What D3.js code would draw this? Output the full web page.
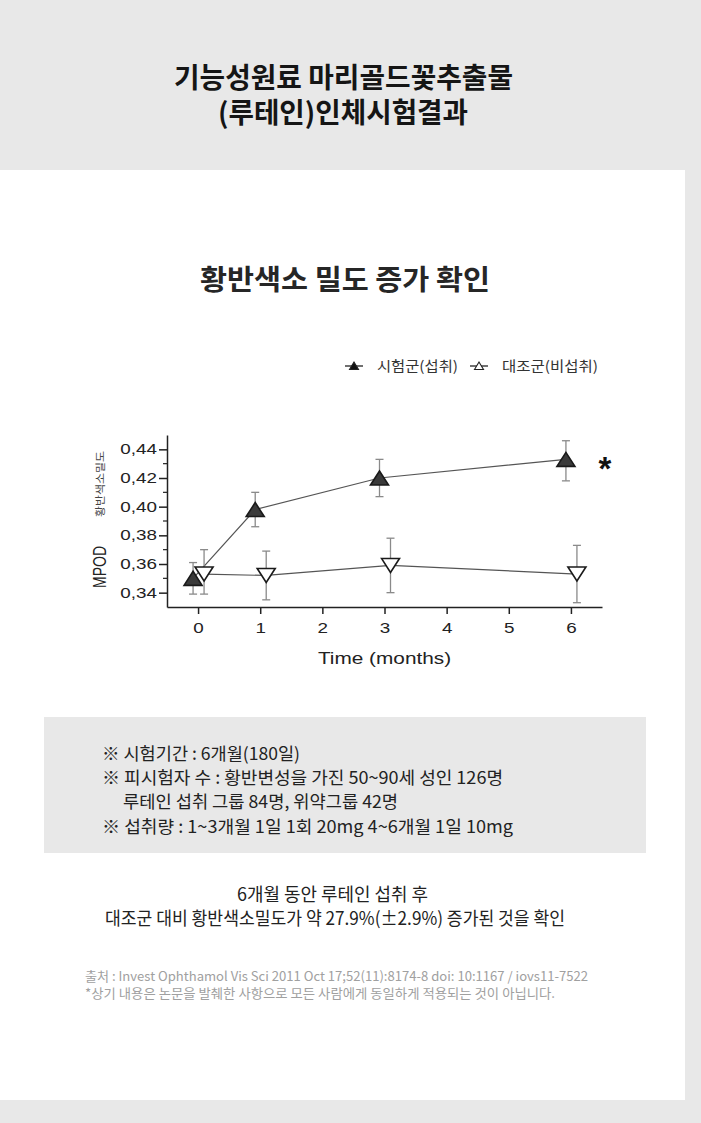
<!DOCTYPE html>
<html><head><meta charset="utf-8">
<script src="https://cdn.jsdelivr.net/npm/d3@7"></script>
<style>body{margin:0;background:#e8e8e8;overflow:hidden}svg{display:block}</style>
</head><body>
<svg id="c" width="701" height="1123"></svg>
<script>
// ---- data ----
const months = [0, 1, 3, 6];
const treatMean = [0.350, 0.398, 0.420, 0.433];
const treatLo   = [0.339, 0.386, 0.407, 0.418];
const treatHi   = [0.361, 0.410, 0.433, 0.446];
const ctrlMean  = [0.353, 0.352, 0.359, 0.353];
const ctrlLo    = [0.339, 0.335, 0.340, 0.333];
const ctrlHi    = [0.370, 0.369, 0.378, 0.373];
const xTicks = [0, 1, 2, 3, 4, 5, 6];
const yTicks = [0.34, 0.36, 0.38, 0.40, 0.42, 0.44];
const yMinor = [0.35, 0.37, 0.39, 0.41, 0.43];
const seriesNames = ["시험군(섭취)", "대조군(비섭취)"];
const titleLines = ["기능성원료 마리골드꽃추출물", "(루테인)인체시험결과"];
const subTitle = "황반색소 밀도 증가 확인";
const infoLines = ["※ 시험기간 : 6개월(180일)", "※ 피시험자 수 : 황반변성을 가진 50~90세 성인 126명", "루테인 섭취 그룹 84명, 위약그룹 42명", "※ 섭취량 : 1~3개월 1일 1회 20mg 4~6개월 1일 10mg"];
const conclusion = ["6개월 동안 루테인 섭취 후", "대조군 대비 황반색소밀도가 약 27.9%(±2.9%) 증가된 것을 확인"];
const sourceLines = ["출처 : Invest Ophthamol Vis Sci 2011 Oct 17;52(11):8174-8 doi: 10:1167 / iovs11-7522", "*상기 내용은 논문을 발췌한 사항으로 모든 사람에게 동일하게 적용되는 것이 아닙니다."];

const svg = d3.select("#c");
const KR = "'Noto Sans CJK KR', 'Noto Sans', sans-serif";
const AR = "'Liberation Sans', Arial, sans-serif";
const SX = 1.3; // horizontal stretch of chart text

// backgrounds
svg.append("rect").attr("x",0).attr("y",0).attr("width",701).attr("height",1123).attr("fill","#e8e8e8");
svg.append("rect").attr("x",0).attr("y",170).attr("width",685).attr("height",930).attr("fill","#ffffff");

// multi-line fitted text block: lines = [{s, x, y, w}]
function block(lines, size, opts={}) {
  const t = svg.append("text").attr("font-family", opts.family || KR).attr("font-size", size)
    .attr("font-weight", opts.weight || 400).attr("fill", opts.fill || "#222");
  lines.forEach(l => {
    const ts = t.append("tspan").attr("x", l.x).attr("y", l.y).text(l.s);
    if (l.w) ts.attr("textLength", l.w).attr("lengthAdjust", "spacingAndGlyphs");
  });
  return t;
}

// titles
block([{s: titleLines[0], x: 174, y: 88, w: 339}, {s: titleLines[1], x: 218, y: 123, w: 250}], 28, {weight: 700, fill: "#151515"});
block([{s: subTitle, x: 200, y: 290, w: 290}], 28, {weight: 700, fill: "#262626"});

// ---- chart ----
const x = d3.scaleLinear().domain([-0.5, 6.5]).range([167, 602]);
const y = d3.scaleLinear().domain([0.33, 0.45]).range([607, 435]);
const g = svg.append("g");

const yAxis = g.append("g").attr("transform", `translate(${x(-0.5)},0)`)
  .call(d3.axisLeft(y).tickValues(yTicks).tickSize(8).tickSizeOuter(0).tickPadding(0)
        .tickFormat(d => d.toFixed(2).replace(".", ",")));
yAxis.selectAll("text").attr("font-family", AR).attr("font-size", 14.5).attr("fill", "#222")
  .attr("x", -10 / SX).attr("transform", `scale(${SX},1)`);
yAxis.selectAll("line,path").attr("stroke", "#222").attr("stroke-width", 1.5);
g.append("g").selectAll("line").data(yMinor).join("line")
  .attr("x1", x(-0.5) - 4).attr("x2", x(-0.5)).attr("y1", d => y(d)).attr("y2", d => y(d))
  .attr("stroke", "#222").attr("stroke-width", 1.2);

const xAxis = g.append("g").attr("transform", `translate(0,${y(0.33)})`)
  .call(d3.axisBottom(x).tickValues(xTicks).tickSize(7).tickSizeOuter(0).tickPadding(9).tickFormat(d3.format("d")));
xAxis.selectAll("text").attr("font-family", AR).attr("font-size", 14.5).attr("fill", "#222")
  .attr("transform", `scale(${SX},1)`).attr("x", 0);
xAxis.selectAll("line,path").attr("stroke", "#222").attr("stroke-width", 1.5);

// axis titles
g.append("text").text("Time (months)").attr("font-family", AR).attr("font-size", 16).attr("fill", "#222")
  .attr("text-anchor", "middle").attr("transform", `translate(${x(3)},664) scale(${SX},1)`);
g.append("text").text("MPOD").attr("font-family", AR).attr("font-size", 14).attr("fill", "#222")
  .attr("textLength", 42).attr("lengthAdjust", "spacingAndGlyphs")
  .attr("transform", `translate(105.5,588) scale(${SX},1) rotate(-90)`);
g.append("text").text("황반색소밀도").attr("font-family", KR).attr("font-size", 8).attr("fill", "#444")
  .attr("textLength", 66).attr("lengthAdjust", "spacingAndGlyphs")
  .attr("transform", `translate(104,517) scale(${SX},1) rotate(-90)`);

// series
const triUp = "M-9,7L0,-7L9,7Z";
const triDown = "M-9,-7L0,7L9,-7Z";
const series = [
  {mean: treatMean, lo: treatLo, hi: treatHi, off: -5, path: triUp, fill: "#3a3a3a"},
  {mean: ctrlMean, lo: ctrlLo, hi: ctrlHi, off: 6, path: triDown, fill: "#ffffff"}
];
series.forEach(s => {
  const pts = months.map((m, i) => ({m, v: s.mean[i], lo: s.lo[i], hi: s.hi[i]}));
  const px = d => x(d.m) + s.off;
  const eb = g.append("g").attr("stroke", "#8a8a8a").attr("stroke-width", 1.3);
  eb.selectAll(".v").data(pts).join("line").attr("x1", px).attr("x2", px)
    .attr("y1", d => y(d.lo)).attr("y2", d => y(d.hi));
  eb.selectAll(".ct").data(pts).join("line").attr("x1", d => px(d) - 4).attr("x2", d => px(d) + 4)
    .attr("y1", d => y(d.hi)).attr("y2", d => y(d.hi));
  eb.selectAll(".cb").data(pts).join("line").attr("x1", d => px(d) - 4).attr("x2", d => px(d) + 4)
    .attr("y1", d => y(d.lo)).attr("y2", d => y(d.lo));
  g.append("path").datum(pts).attr("fill", "none").attr("stroke", "#555").attr("stroke-width", 1.2)
    .attr("d", d3.line().x(px).y(d => y(d.v)));
  g.append("g").selectAll("path").data(pts).join("path")
    .attr("d", s.path).attr("transform", d => `translate(${px(d)},${y(d.v)})`)
    .attr("fill", s.fill).attr("stroke", "#1a1a1a").attr("stroke-width", 1.6).attr("stroke-linejoin", "miter");
});

// significance asterisk
g.append("text").text("*").attr("font-family", AR).attr("font-weight", 700).attr("font-size", 33)
  .attr("fill", "#111").attr("text-anchor", "middle")
  .attr("x", x(6) + 34).attr("y", y(treatMean[3]) + 21);

// legend
const lg = svg.append("g");
const legendItems = [
  {name: seriesNames[0], path: "M-4.5,3.5L0,-4L4.5,3.5Z", fill: "#111", lx: 345, tx: 377, w: 81},
  {name: seriesNames[1], path: "M-4.5,3.5L0,-4L4.5,3.5Z", fill: "#fff", lx: 470, tx: 502, w: 96}
];
legendItems.forEach(it => {
  lg.append("line").attr("x1", it.lx).attr("x2", it.lx + 18).attr("y1", 366).attr("y2", 366)
    .attr("stroke", "#222").attr("stroke-width", 1.3);
  lg.append("path").attr("d", it.path).attr("transform", `translate(${it.lx + 9},366)`)
    .attr("fill", it.fill).attr("stroke", "#222").attr("stroke-width", 1.1);
  lg.append("text").text(it.name).attr("x", it.tx).attr("y", 371).attr("font-family", KR)
    .attr("font-size", 14).attr("fill", "#333")
    .attr("textLength", it.w).attr("lengthAdjust", "spacingAndGlyphs");
});

// info box
svg.append("rect").attr("x", 44).attr("y", 717).attr("width", 602).attr("height", 136).attr("fill", "#e8e8e8");
block([
  {s: infoLines[0], x: 102, y: 760, w: 198},
  {s: infoLines[1], x: 102, y: 784, w: 401},
  {s: infoLines[2], x: 123, y: 808, w: 275},
  {s: infoLines[3], x: 102, y: 833, w: 411}
], 17.5);

// conclusion
block([
  {s: conclusion[0], x: 237, y: 901, w: 191},
  {s: conclusion[1], x: 105, y: 925, w: 460}
], 18);

// source
block([
  {s: sourceLines[0], x: 85, y: 981, w: 503},
  {s: sourceLines[1], x: 85, y: 998, w: 470}
], 13, {fill: "#a0a0a0"});
</script>
</body></html>
